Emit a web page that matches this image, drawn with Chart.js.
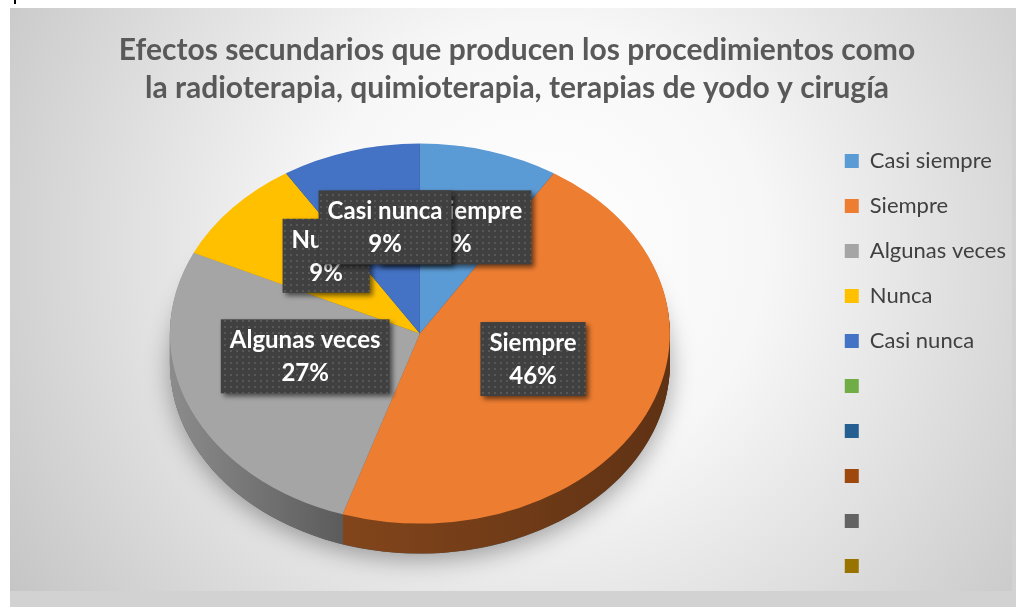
<!DOCTYPE html>
<html lang="es">
<head>
<meta charset="UTF-8">
<title>Efectos secundarios</title>
<script src="https://cdn.jsdelivr.net/npm/chart.js"></script>
<style>
  body { margin: 0; background: #fff; }
  canvas { display: block; }
</style>
</head>
<body>
<canvas id="pieChart" width="1016" height="607"></canvas>
<script>
// chart data
const categories = ['Casi siempre', 'Siempre', 'Algunas veces', 'Nunca', 'Casi nunca', '', '', '', '', ''];
const percentages = [9, 46, 27, 9, 9];
const colors = ['#5B9BD5', '#ED7D31', '#A5A5A5', '#FFC000', '#4472C4', '#70AD47', '#255E91', '#9E480E', '#636363', '#997300'];
const titleLines = [
    'Efectos secundarios que producen los procedimientos como',
    'la radioterapia, quimioterapia, terapias de yodo y cirugía'
];

const TILT = 0.76;   // vertical squash of the pie (fake 3D)
const DEPTH = 30;    // thickness of the pie side, px

function shade(hex, f) {
    const n = parseInt(hex.slice(1), 16);
    const r = Math.round(((n >> 16) & 255) * f);
    const g = Math.round(((n >> 8) & 255) * f);
    const b = Math.round((n & 255) * f);
    return `rgb(${r},${g},${b})`;
}

// squash around the arc centre and move it up/down by dy
function project(ctx, el, dy) {
    ctx.translate(el.x, el.y + dy);
    ctx.scale(1, TILT);
    ctx.translate(-el.x, -el.y);
}

function wedge(ctx, el) {
    ctx.beginPath();
    ctx.moveTo(el.x, el.y);
    ctx.arc(el.x, el.y, el.outerRadius, el.startAngle, el.endAngle);
    ctx.closePath();
}

const background = {
    id: 'background',
    beforeDraw(chart) {
        const c = chart.ctx;
        c.save();
        c.fillStyle = '#d2d2d2';
        c.fillRect(0, 0, chart.width, chart.height);
        c.fillStyle = '#ffffff';
        c.fillRect(0, 0, chart.width, 8);
        c.fillRect(0, 0, 10, chart.height);
        const g = c.createRadialGradient(540, 250, 0, 540, 250, 640);
        g.addColorStop(0, '#ffffff');
        g.addColorStop(0.35, '#f7f7f7');
        g.addColorStop(1, '#c4c4c4');
        c.fillStyle = g;
        c.fillRect(10, 8, 1002, 583);
        c.fillStyle = '#000';
        c.fillRect(14, 0, 2, 4);
        c.restore();
    }
};

const pie3d = {
    id: 'pie3d',
    beforeDatasetsDraw(chart) {
        const ctx = chart.ctx;
        const arcs = chart.getDatasetMeta(0).data;
        if (!arcs.length) return;
        const c0 = arcs[0];

        // drop shadow under the whole pie
        ctx.save();
        project(ctx, c0, DEPTH / 2);
        ctx.beginPath();
        ctx.arc(c0.x, c0.y, c0.outerRadius, 0, Math.PI * 2);
        ctx.shadowColor = 'rgba(0,0,0,0.35)';
        ctx.shadowBlur = 24;
        ctx.shadowOffsetY = 6;
        ctx.fillStyle = '#555';
        ctx.fill();
        ctx.restore();

        // side of the pie: stacked darker layers
        for (let dy = DEPTH / 2; dy > -DEPTH / 2; dy -= 1) {
            arcs.forEach((el, i) => {
                ctx.save();
                project(ctx, el, dy);
                const grad = ctx.createLinearGradient(el.x - el.outerRadius, 0, el.x + el.outerRadius, 0);
                grad.addColorStop(0, shade(colors[i], 0.85));
                grad.addColorStop(0.35, shade(colors[i], 0.55));
                grad.addColorStop(1, shade(colors[i], 0.4));
                ctx.fillStyle = grad;
                wedge(ctx, el);
                ctx.fill();
                ctx.restore();
            });
        }

        // top face is drawn by Chart.js under this transform
        ctx.save();
        project(ctx, c0, -DEPTH / 2);
    },
    afterDatasetsDraw(chart) {
        chart.ctx.restore();
    }
};

const tile = document.createElement('canvas');
tile.width = tile.height = 6;
const tctx = tile.getContext('2d');
tctx.fillStyle = '#404040';
tctx.fillRect(0, 0, 6, 6);
tctx.fillStyle = '#575757';
tctx.fillRect(2, 2, 2, 2);

const sliceLabels = {
    id: 'sliceLabels',
    afterDatasetsDraw(chart) {
        const ctx = chart.ctx;
        const arcs = chart.getDatasetMeta(0).data;
        const total = percentages.reduce((a, b) => a + b, 0);
        const pattern = ctx.createPattern(tile, 'repeat');
        ctx.save();
        ctx.font = 'bold 24px Lato';
        ctx.textAlign = 'center';
        ctx.textBaseline = 'middle';
        arcs.forEach((el, i) => {
            const mid = (el.startAngle + el.endAngle) / 2;
            const r = el.outerRadius * 0.5;
            const px = el.x + Math.cos(mid) * r;
            const py = el.y - DEPTH / 2 + Math.sin(mid) * r * TILT - 15;
            const lines = [categories[i], Math.round(percentages[i] / total * 100) + '%'];
            const w = Math.max(...lines.map(t => ctx.measureText(t).width)) + 18;
            const h = 74;
            ctx.save();
            ctx.shadowColor = 'rgba(0,0,0,0.55)';
            ctx.shadowBlur = 5;
            ctx.shadowOffsetX = 3;
            ctx.shadowOffsetY = 3;
            ctx.fillStyle = pattern;
            ctx.fillRect(px - w / 2, py - h / 2, w, h);
            ctx.restore();
            ctx.fillStyle = '#ffffff';
            ctx.fillText(lines[0], px, py - 16);
            ctx.fillText(lines[1], px, py + 17);
        });
        ctx.restore();
    }
};

new Chart(document.getElementById('pieChart'), {
    type: 'pie',
    data: {
        labels: categories,
        datasets: [{
            data: percentages,
            backgroundColor: colors,
            borderWidth: 0,
            radius: 250
        }]
    },
    options: {
        responsive: false,
        animation: false,
        layout: { padding: { left: 18, right: 0, top: 0, bottom: 7 } },
        plugins: {
            title: {
                display: true,
                text: titleLines,
                color: '#595959',
                font: { family: 'Lato', size: 30, weight: 'bold', lineHeight: 1.27 },
                padding: { top: 31, bottom: -10 }
            },
            legend: {
                position: 'right',
                align: 'end',
                labels: {
                    boxWidth: 14,
                    boxHeight: 14,
                    padding: 23,
                    color: '#404040',
                    font: { family: 'Lato', size: 22 },
                    generateLabels(chart) {
                        const items = Chart.overrides.pie.plugins.legend.labels.generateLabels(chart);
                        items.forEach((it, i) => { it.fillStyle = colors[i]; it.strokeStyle = colors[i]; });
                        return items;
                    }
                }
            },
            tooltip: { enabled: false }
        }
    },
    plugins: [background, pie3d, sliceLabels]
});
</script>
</body>
</html>
